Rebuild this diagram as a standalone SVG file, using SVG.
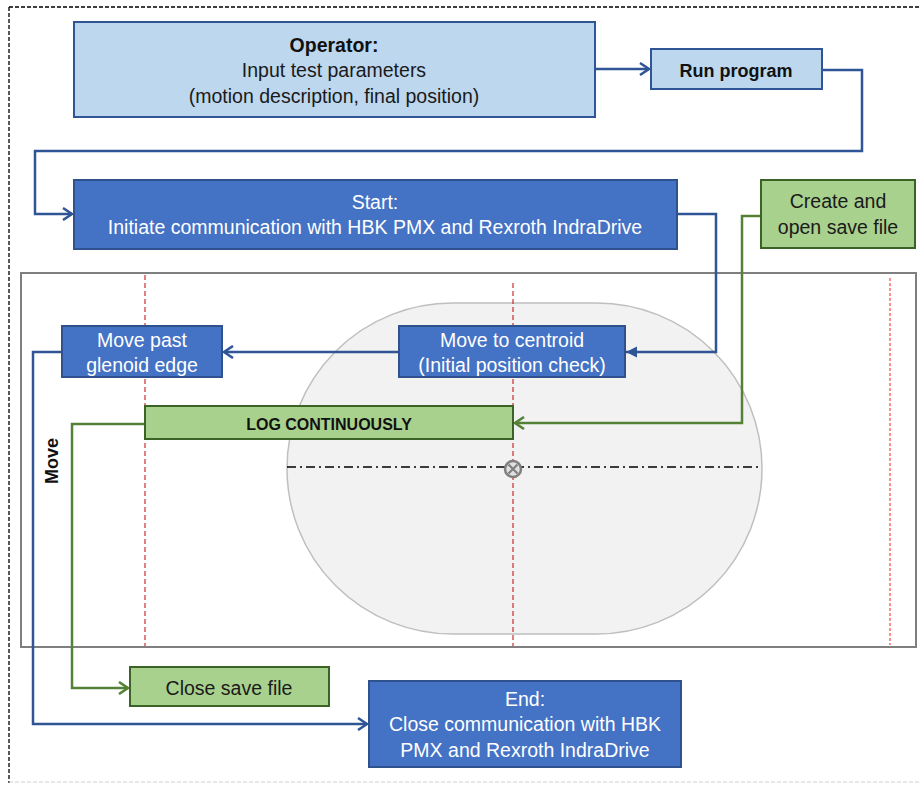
<svg xmlns="http://www.w3.org/2000/svg" width="920" height="785" viewBox="0 0 920 785">
<style>
text{font-family:"Liberation Sans",Arial,sans-serif;text-anchor:middle}
.t{font-size:19.5px;fill:#1a1a1a}
.w{font-size:19.5px;fill:#ffffff}
.b{font-weight:bold;fill:#111111}
.lb{fill:#BDD7EE;stroke:#2F5597;stroke-width:2}
.db{fill:#4472C4;stroke:#2F528F;stroke-width:2}
.gr{fill:#A9D18E;stroke:#3B6325;stroke-width:2}
.cb{fill:none;stroke:#2F5597;stroke-width:2.5}
.cg{fill:none;stroke:#538135;stroke-width:2.5}
.red{stroke:#C00000;stroke-width:1;stroke-dasharray:5,3}
</style>
<defs>
<marker id="ob" markerWidth="14" markerHeight="14" refX="11" refY="7" orient="auto" markerUnits="userSpaceOnUse">
<path d="M2,1 L11,7 L2,13" fill="none" stroke="#2F5597" stroke-width="2.5"/>
</marker>
<marker id="og" markerWidth="14" markerHeight="14" refX="11" refY="7" orient="auto" markerUnits="userSpaceOnUse">
<path d="M2,1 L11,7 L2,13" fill="none" stroke="#538135" stroke-width="2.5"/>
</marker>
<marker id="fb" markerWidth="14" markerHeight="14" refX="12" refY="7" orient="auto" markerUnits="userSpaceOnUse">
<path d="M1,1.5 L12,7 L1,12.5 Z" fill="#2F5597"/>
</marker>
</defs>
<rect width="920" height="785" fill="#ffffff"/>
<g id="frame">
<line x1="9" y1="7" x2="920" y2="7" stroke="#000" stroke-width="1.3" stroke-dasharray="4,2"/>
<line x1="9" y1="7" x2="9" y2="783" stroke="#000" stroke-width="1.3" stroke-dasharray="4,2"/>
<line x1="9" y1="782" x2="920" y2="782" stroke="#d0d0d0" stroke-width="1" stroke-dasharray="4,2"/>
</g>
<g id="move-area">
<rect x="21" y="273" width="895" height="374" fill="#ffffff" stroke="#7F7F7F" stroke-width="2"/>
<rect x="287" y="303" width="475" height="331" rx="165.5" ry="165.5" fill="#F2F2F2" stroke="#BFBFBF" stroke-width="1.5"/>
<line class="red" x1="145" y1="275" x2="145" y2="646"/>
<line class="red" x1="513" y1="283" x2="513" y2="646"/>
<line x1="890" y1="278" x2="890" y2="645" stroke="#FF5050" stroke-width="1.3" stroke-dasharray="3,2"/>
<line x1="287" y1="467" x2="762" y2="467" stroke="#000" stroke-width="1.5" stroke-dasharray="9,4,2,4"/>
<g id="centroid-mark">
<circle cx="513" cy="469" r="8" fill="#E0E0E0" stroke="#7F7F7F" stroke-width="2.5"/>
<path d="M508.5,464.5 L517.5,473.5 M517.5,464.5 L508.5,473.5" stroke="#7F7F7F" stroke-width="2.2"/>
</g>
<text class="b" font-size="18" transform="translate(58,461) rotate(-90)">Move</text>
</g>
<g id="connectors">
<path class="cb" d="M595,69 L649,69" marker-end="url(#ob)"/>
<path class="cb" d="M822,70 L862,70 L862,151 L35,151 L35,214 L72,214" marker-end="url(#ob)"/>
<path class="cb" d="M677,214 L716,214 L716,352 L626,352" marker-end="url(#fb)"/>
<path class="cb" d="M399,352 L224,352" marker-end="url(#ob)"/>
<path class="cb" d="M62,352 L33,352 L33,724 L367,724" marker-end="url(#ob)"/>
<path class="cg" d="M761,216 L742,216 L742,423 L515,423" marker-end="url(#og)"/>
<path class="cg" d="M145,424 L72,424 L72,688 L128,688" marker-end="url(#og)"/>
</g>
<g id="operator">
<rect class="lb" x="74" y="22" width="521" height="95"/>
<text class="t b" x="334" y="52">Operator:</text>
<text class="t" x="334" y="77">Input test parameters</text>
<text class="t" x="334" y="103">(motion description, final position)</text>
</g>
<g id="run-program">
<rect class="lb" x="651" y="49" width="171" height="40"/>
<text class="b" font-size="18" x="736" y="77">Run program</text>
</g>
<g id="start">
<rect class="db" x="74" y="180" width="603" height="69"/>
<text class="w" x="375" y="209">Start:</text>
<text class="w" x="375" y="234">Initiate communication with HBK PMX and Rexroth IndraDrive</text>
</g>
<g id="create-file">
<rect class="gr" x="761" y="180" width="154" height="68"/>
<text class="t" x="838" y="208">Create and</text>
<text class="t" x="838" y="234">open save file</text>
</g>
<g id="move-centroid">
<rect class="db" x="399" y="326" width="226" height="51"/>
<text class="w" x="512" y="347">Move to centroid</text>
<text class="w" x="512" y="372">(Initial position check)</text>
</g>
<g id="move-past">
<rect class="db" x="62" y="326" width="160" height="51"/>
<text class="w" x="142" y="347">Move past</text>
<text class="w" x="142" y="372">glenoid edge</text>
</g>
<g id="log">
<rect class="gr" x="145" y="406" width="368" height="33"/>
<text class="b" font-size="16" x="329" y="430">LOG CONTINUOUSLY</text>
</g>
<g id="close-file">
<rect class="gr" x="130" y="667" width="199" height="39"/>
<text class="t" x="229" y="695">Close save file</text>
</g>
<g id="end">
<rect class="db" x="369" y="681" width="312" height="86"/>
<text class="w" x="525" y="706">End:</text>
<text class="w" x="525" y="731">Close communication with HBK</text>
<text class="w" x="525" y="757">PMX and Rexroth IndraDrive</text>
</g>
</svg>
